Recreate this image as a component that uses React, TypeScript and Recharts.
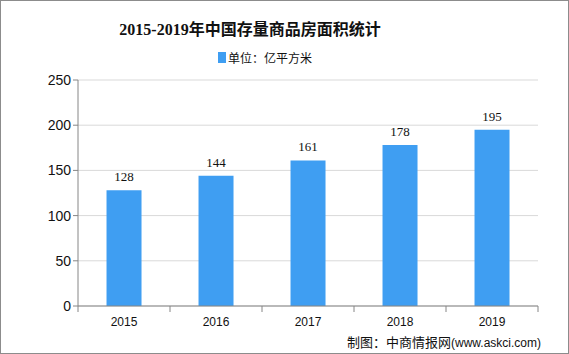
import { BarChart, Bar, XAxis, YAxis, CartesianGrid, LabelList } from 'recharts'

const years = ['2015', '2016', '2017', '2018', '2019']
const area = [128, 144, 161, 178, 195]
const yTicks = [0, 50, 100, 150, 200, 250]

const data = years.map((year, i) => ({ year, area: area[i] }))

const W = 569
const H = 354
const margin = { top: 80, right: 31, bottom: 26, left: 0 }
const yAxisWidth = 78
const bandHalf = (W - margin.left - margin.right - yAxisWidth) / years.length / 2

const BLUE = '#3f9ef2'
const AXIS = '#868686'

function XTick(props: any) {
  const { x, y, payload, index } = props
  return (
    <g>
      <line x1={x - bandHalf} y1={y - 8} x2={x - bandHalf} y2={y - 2} stroke={AXIS} />
      {index === years.length - 1 && (
        <line x1={x + bandHalf} y1={y - 8} x2={x + bandHalf} y2={y - 2} stroke={AXIS} />
      )}
      <text x={x} y={y + 12} textAnchor="middle" fontSize={12} fontFamily="'Liberation Sans', Arial" fill="#111">
        {payload.value}
      </text>
    </g>
  )
}

export default function App() {
  return (
    <div
      style={{
        position: 'absolute',
        left: 0,
        top: 0,
        width: W,
        height: H,
        boxSizing: 'border-box',
        border: '1px solid #8c8c8c',
        background: '#fff',
      }}
    >
      <div
        style={{
          position: 'absolute',
          top: 15,
          left: 0,
          width: 498,
          textAlign: 'center',
          fontFamily: "'Liberation Serif', 'Noto Sans CJK SC', serif",
          fontWeight: 'bold',
          fontSize: 16,
          color: '#111',
        }}
      >
        2015-2019年中国存量商品房面积统计
      </div>
      <div
        style={{
          position: 'absolute',
          top: 48,
          left: 217,
          display: 'flex',
          alignItems: 'center',
          fontFamily: "'Noto Sans CJK SC', sans-serif",
          fontSize: 12,
          color: '#111',
        }}
      >
        <span style={{ display: 'inline-block', width: 8, height: 11, background: BLUE, marginRight: 2 }} />
        单位：亿平方米
      </div>
      <div style={{ position: 'absolute', left: -1, top: -1 }}>
        <BarChart width={W} height={H} data={data} margin={margin} barCategoryGap="31%">
          <CartesianGrid vertical={false} stroke="#d9d9d9" />
          <XAxis
            dataKey="year"
            axisLine={{ stroke: AXIS }}
            tickLine={false}
            tick={<XTick />}
            height={22}
            interval={0}
          />
          <YAxis
            width={yAxisWidth}
            domain={[0, 250]}
            ticks={yTicks}
            axisLine={{ stroke: AXIS }}
            tickLine={{ stroke: AXIS }}
            tickSize={5}
            tick={{ fontSize: 14, fontFamily: "'Liberation Sans', Arial", fill: '#111' }}
          />
          <Bar dataKey="area" fill={BLUE} isAnimationActive={false}>
            <LabelList
              dataKey="area"
              position="top"
              offset={9}
              style={{ fontSize: 13, fontFamily: "'Liberation Serif', serif", fill: '#111' }}
            />
          </Bar>
        </BarChart>
      </div>
      <div
        style={{
          position: 'absolute',
          top: 331,
          left: 346,
          fontFamily: "'Noto Sans CJK SC', sans-serif",
          fontSize: 13,
          color: '#111',
          whiteSpace: 'nowrap',
        }}
      >
        制图：中商情报网<span style={{ fontFamily: "'Liberation Sans', Arial", fontSize: 12 }}>(www.askci.com)</span>
      </div>
    </div>
  )
}
